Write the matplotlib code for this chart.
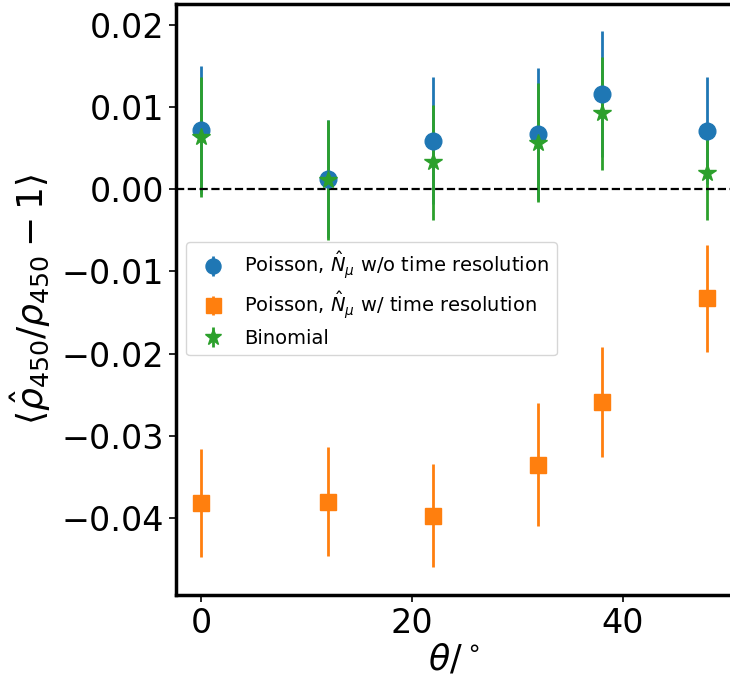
import matplotlib
matplotlib.use("Agg")
import matplotlib.pyplot as plt
import numpy as np

theta = [0, 12, 22, 32, 38, 48]

poisson_wo = [0.0072, 0.00125, 0.0059, 0.0067, 0.01156, 0.00707]
poisson_wo_err = [0.0078, 0.0072, 0.0077, 0.0080, 0.0077, 0.0065]

poisson_w = [-0.0382, -0.0380, -0.0397, -0.0335, -0.0259, -0.0133]
poisson_w_err = [0.0066, 0.0066, 0.0063, 0.0075, 0.0067, 0.0065]

binomial = [0.00638, 0.00113, 0.00327, 0.00566, 0.00921, 0.00194]
binomial_err = [0.0073, 0.0073, 0.0070, 0.0072, 0.0069, 0.0057]

fig = plt.figure(figsize=(7.30, 6.78), dpi=100)
ax = fig.add_axes([0.241, 0.122, 0.762, 0.872])

ax.errorbar(theta, poisson_wo, yerr=poisson_wo_err, fmt="o", color="C0",
            markersize=12, elinewidth=2, label=r"Poisson, $\hat{N}_\mu$ w/o time resolution")
ax.errorbar(theta, poisson_w, yerr=poisson_w_err, fmt="s", color="C1",
            markersize=12, elinewidth=2, label=r"Poisson, $\hat{N}_\mu$ w/ time resolution")
ax.errorbar(theta, binomial, yerr=binomial_err, fmt="*", color="C2",
            markersize=13, elinewidth=2, label="Binomial")

ax.axhline(0, color="k", linestyle="--", linewidth=1.6)

ax.set_xlim(-2.4, 50.4)
ax.set_ylim(-0.0494, 0.0225)
ax.set_xticks([0, 20, 40])
ax.set_yticks([-0.04, -0.03, -0.02, -0.01, 0.0, 0.01, 0.02])
ax.tick_params(labelsize=24, width=1.2, length=5)

for s in ax.spines.values():
    s.set_linewidth(2.5)

ax.set_xlabel(r"$\theta/^\circ$", fontsize=25, labelpad=2)
ax.set_ylabel(r"$\langle\hat{\rho}_{450}/\rho_{450}-1\rangle$", fontsize=26, labelpad=6)

ax.legend(loc="upper left", bbox_to_anchor=(0.018, 0.598), borderaxespad=0,
          fontsize=14, labelspacing=0.42, markerscale=0.9, handletextpad=0.6)

fig.savefig("out.png", dpi=100)
